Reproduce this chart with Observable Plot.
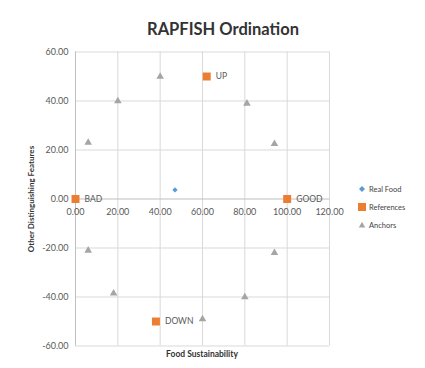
<!DOCTYPE html>
<html><head><meta charset="utf-8">
<script src="https://cdn.jsdelivr.net/npm/d3@7"></script>
<script src="https://cdn.jsdelivr.net/npm/@observablehq/plot@0.6"></script>
<style>
body{margin:0;background:#fff;font-family:Lato, "Open Sans", sans-serif}
#wrap{position:relative;width:425px;height:368px;overflow:hidden;background:#fff}
#chart{position:absolute;left:0;top:0}
.topline{position:absolute;left:10px;right:0;top:8px;border-top:1px solid #e8e8e8}
.title{position:absolute;left:223px;top:28.5px;transform:translate(-50%,-50%);white-space:nowrap;font-weight:bold;font-size:16.5px;color:#333}
.ytitle{position:absolute;left:31px;top:199px;transform:translate(-50%,-50%) rotate(-90deg);white-space:nowrap;font-weight:bold;font-size:8px;color:#333}
.xtitle{position:absolute;left:202px;top:354px;transform:translate(-50%,-50%);white-space:nowrap;font-weight:bold;font-size:8.5px;color:#333}
.legend{position:absolute;left:357px;top:180px;font-size:7.5px;color:#444}
.legend div{height:18px;display:flex;align-items:center;gap:2px}
.legend svg{width:10px;height:10px}
</style></head><body>
<div id="wrap">
<div class="topline"></div>
<div id="chart"></div>
<div class="title">RAPFISH Ordination</div>
<div class="ytitle">Other Distinguishing Features</div>
<div class="xtitle">Food Sustainability</div>
<div class="legend" id="legend"></div>
</div>
<script>
const seriesNames = ["Real Food", "References", "Anchors"];
const seriesColors = ["#5B9BD5", "#ED7D31", "#A5A5A5"];
const realFoodX = [47];
const realFoodY = [3.7];
const refNames = ["BAD", "GOOD", "UP", "DOWN"];
const refX = [0, 100, 62, 38];
const refY = [0, 0, 50, -50];
const anchorX = [20, 6, 40, 81, 94, 6, 18, 94, 80, 60];
const anchorY = [40, 23, 50, 39, 22.5, -21, -38.5, -22, -40, -49];
const xTicks = [0, 20, 40, 60, 80, 100, 120];
const yTicks = [-60, -40, -20, 0, 20, 40, 60];

const fmt = d => d.toFixed(2);
const realFood = realFoodX.map((x, i) => ({x, y: realFoodY[i]}));
const refs = refNames.map((n, i) => ({name: n, x: refX[i], y: refY[i]}));
const anchors = anchorX.map((x, i) => ({x, y: anchorY[i]}));

const chart = Plot.plot({
  width: 425, height: 368,
  marginLeft: 75, marginRight: 96, marginTop: 51.5, marginBottom: 22.5,
  x: {domain: [0, 120], axis: null},
  y: {domain: [-60, 60], axis: null},
  style: {fontFamily: "Lato, 'Open Sans', sans-serif", background: "#fff"},
  marks: [
    Plot.ruleX(xTicks.filter(d => d !== 0), {x: d => d, stroke: "#d9d9d9", strokeWidth: 1}),
    Plot.ruleY(yTicks.filter(d => d !== 0), {y: d => d, stroke: "#d9d9d9", strokeWidth: 1}),
    Plot.ruleX([0], {x: d => d, stroke: "#bfbfbf", strokeWidth: 1}),
    Plot.ruleY([0], {y: d => d, stroke: "#bfbfbf", strokeWidth: 1}),
    Plot.axisY(yTicks, {tickSize: 0, tickPadding: 7, tickFormat: fmt, fontSize: 9, fill: "#595959", label: null}),
    Plot.text(xTicks, {x: d => d, y: () => 0, dy: 13, text: fmt, fontSize: 9, fill: "#595959"}),
    Plot.dot(anchors, {x: "x", y: "y", symbol: "triangle", r: 2.8, fill: seriesColors[2], stroke: "none"}),
    Plot.dot(refs, {x: "x", y: "y", symbol: "square", r: 4.5, fill: seriesColors[1], stroke: "none"}),
    Plot.dot(realFood, {x: "x", y: "y", symbol: "diamond2", r: 2.4, fill: seriesColors[0], stroke: "none"}),
    Plot.text(refs, {x: "x", y: "y", text: "name", dx: 9, textAnchor: "start", fontSize: 8.5, fill: "#595959"})
  ]
});
document.getElementById("chart").append(chart);

const shapes = [
  '<svg viewBox="-5 -5 10 10"><path d="M0,-3L3,0L0,3L-3,0Z" fill="' + seriesColors[0] + '"/></svg>',
  '<svg viewBox="-5 -5 10 10"><rect x="-4" y="-4" width="8" height="8" fill="' + seriesColors[1] + '"/></svg>',
  '<svg viewBox="-5 -5 10 10"><path d="M0,-3.2L3.2,2.6L-3.2,2.6Z" fill="' + seriesColors[2] + '"/></svg>'
];
document.getElementById("legend").innerHTML = seriesNames.map((n, i) => '<div>' + shapes[i] + '<span>' + n + '</span></div>').join("");
</script>
</body></html>
